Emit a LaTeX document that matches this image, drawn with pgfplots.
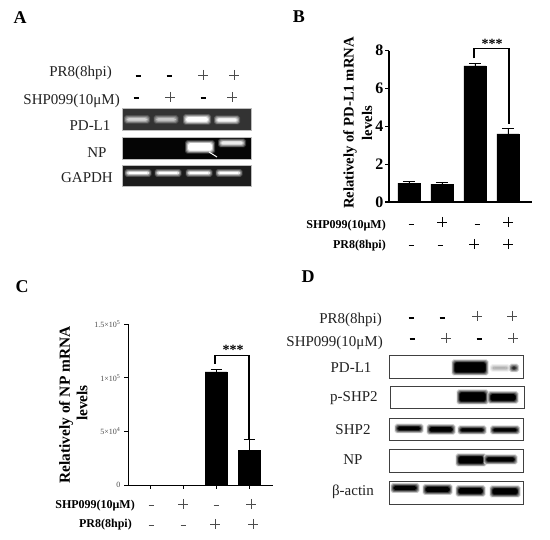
\documentclass[border=0pt]{standalone}
\usepackage{fontspec}
\setmainfont{Liberation Serif}
\usepackage{pgfplots}
\usepackage{pgfplotstable}
\pgfplotsset{compat=1.18}
\definecolor{gelA}{HTML}{333333}
\definecolor{gelB}{HTML}{050505}
\definecolor{gelC}{HTML}{1C1C1C}
\definecolor{frameA}{HTML}{BDBDBD}
\definecolor{lab}{HTML}{222222}
\newcommand{\fs}[1]{\fontsize{#1}{#1}\selectfont}
% blurred band: cx cy w h core background
\newcommand{\band}[6]{%
  \colorlet{bandcore}{#5}%
  \foreach \i in {0,1,...,5}{%
    \pgfmathsetmacro{\mixv}{(\i+1)*100/6}%
    \pgfmathsetmacro{\gr}{(5-\i)*0.6}%
    \fill[color=bandcore!\mixv!#6,rounded corners=1.8pt]
      ({(#1-#3/2-\gr)*1pt},{-(#2-#4/2-0.5-\gr)*1pt}) rectangle ({(#1+#3/2+\gr)*1pt},{-(#2+#4/2+0.5+\gr)*1pt});
  }}
\newcommand{\R}[4]{\node[anchor=east,inner sep=0pt,text=lab,font=\fs{#4}] at (#1pt,-#2pt-1.5pt) {#3};}
\newcommand{\C}[4]{\node[anchor=center,inner sep=0pt,text=lab,font=\fs{#4}] at (#1pt,-#2pt-1pt) {#3};}
\newcommand{\BF}[4]{\node[anchor=center,inner sep=0pt,text=black,font=\fs{#4}\bfseries] at (#1pt,-#2pt) {#3};}
\newcommand{\BR}[4]{\node[anchor=east,inner sep=0pt,text=black,font=\fs{#4}\bfseries] at (#1pt,-#2pt-2pt) {#3};}
\newcommand{\plus}[3]{\draw[#3] (#1pt-5pt,-#2pt) -- (#1pt+5pt,-#2pt) (#1pt,-#2pt+5pt) -- (#1pt,-#2pt-5pt);}
\newcommand{\minus}[3]{\draw[#3] (#1pt-2.5pt,-#2pt) -- (#1pt+2.5pt,-#2pt);}
\pgfplotstableread{
x y e
0 1.00 0.08
1 0.95 0.08
2 7.20 0.12
3 3.60 0.30
}\tabB
\pgfplotstableread{
x y e
2 105500 2500
3 32600 9500
}\tabC
\begin{document}
\begin{tikzpicture}[x=1pt,y=1pt]
\useasboundingbox (0pt,0pt) rectangle (550pt,-540pt);
\fill[white] (0pt,0pt) rectangle (550pt,-540pt);
% ---------- panel A
\BF{20}{18}{A}{18}
\R{112}{71}{PR8(8hpi)}{15}
\R{120}{99}{SHP099(10μM)}{15}
\minus{138}{76}{black,line width=1.1pt}\minus{169}{76}{black,line width=1.1pt}
\plus{203}{75}{black!70,line width=0.6pt}\plus{234}{75}{black!70,line width=0.6pt}
\minus{136}{98}{black,line width=1.1pt}\plus{170}{97}{black!70,line width=0.6pt}
\minus{203}{98}{black,line width=1.1pt}\plus{232}{97}{black!70,line width=0.6pt}
\C{90}{125}{PD-L1}{15}\C{97}{152}{NP}{15}\C{87}{177}{GAPDH}{15}
\filldraw[draw=frameA,fill=gelA,line width=0.7pt] (122pt,-108pt) rectangle (251pt,-130pt);
\filldraw[draw=frameA,fill=gelB,line width=0.7pt] (122pt,-137pt) rectangle (251pt,-159pt);
\filldraw[draw=frameA,fill=gelC,line width=0.7pt] (122pt,-165pt) rectangle (251pt,-186pt);
\band{137}{119.5}{20}{1.5}{black!18}{gelA}
\band{166}{119.5}{19}{1.5}{black!22}{gelA}
\band{197}{119.5}{22}{3.5}{white}{gelA}
\band{227}{120}{20}{2}{black!3}{gelA}
\band{200}{147}{24}{6.5}{white}{gelB}
\band{232}{143}{22}{2}{black!8}{gelB}
\draw[white,line width=1pt] (209pt,-152pt) -- (217pt,-157pt);
\foreach \xx in {138,168,199,229}{\band{\xx}{173}{21}{0.8}{white}{gelC}}
% ---------- panel B
\BF{299}{17}{B}{18}
\begin{axis}[at={(389pt,-202pt)},anchor=south west,scale only axis,width=143pt,height=151.3pt,
  xmin=-0.606,xmax=3.73,ymin=0,ymax=8,
  axis lines=left,axis line style={-,line width=1.2pt},clip=false,tick align=outside,
  xtick=\empty,ytick={0,2,4,6,8},yticklabels={0,2,4,6,8},
  tick style={black,line width=1.2pt},major tick length=4pt,
  tick label style={font=\fs{16}\bfseries},
  yticklabel style={xshift=2pt}]
\addplot[ybar,bar width=22pt,fill=black,draw=black,
  error bars/.cd,y dir=plus,y explicit,error bar style={black,line width=0.7pt},
  error mark options={rotate=90,mark size=6pt,line width=0.7pt,black}]
  table[x=x,y=y,y error=e] {\tabB};
\addplot[black,line width=1.3pt,mark=none] coordinates {(1.97,7.6) (1.97,8.1) (3.03,8.1) (3.03,4.15)};
\end{axis}
\BF{492}{44}{***}{14}
\node[rotate=90,inner sep=0pt,font=\fs{14.7}\bfseries] at (350pt,-123pt) {Relatively of PD-L1 mRNA};
\node[rotate=90,inner sep=0pt,font=\fs{14.7}\bfseries] at (367pt,-123pt) {levels};
\BR{386}{224}{SHP099(10μM)}{12}
\BR{386}{244}{PR8(8hpi)}{12}
\minus{411}{224}{black,line width=0.7pt}\plus{442}{222}{black,line width=0.7pt}
\minus{477}{224}{black,line width=0.7pt}\plus{508}{222}{black,line width=0.7pt}
\minus{411}{245}{black,line width=0.7pt}\minus{440}{245}{black,line width=0.7pt}
\plus{474}{244}{black,line width=0.7pt}\plus{508}{244}{black,line width=0.7pt}
% ---------- panel C
\BF{22}{287}{C}{18}
\begin{axis}[at={(128pt,-485pt)},anchor=south west,scale only axis,width=145pt,height=161pt,
  xmin=-0.667,xmax=3.727,ymin=0,ymax=150000,
  axis lines=left,axis line style={-,line width=0.9pt},clip=false,tick align=outside,
  xtick={0,1,2,3},xticklabels={,,,},
  ytick={0,50000,100000,150000},
  yticklabels={0,5×10\textsuperscript{4},1×10\textsuperscript{5},1.5×10\textsuperscript{5}},
  scaled y ticks=false,
  tick style={black,line width=0.7pt},major tick length=4pt,
  tick label style={font=\fs{8},text=black!70}]
\addplot[ybar,bar width=22pt,fill=black,draw=black,
  error bars/.cd,y dir=plus,y explicit,error bar style={black,line width=0.7pt},
  error mark options={rotate=90,mark size=5.5pt,line width=0.7pt,black}]
  table[x=x,y=y,y error=e] {\tabC};
\addplot[black,line width=1.1pt,mark=none] coordinates {(1.97,113000) (1.97,120500) (3,120500) (3,42000)};
\end{axis}
\BF{233}{350}{***}{14}
\node[rotate=90,inner sep=0pt,font=\fs{15.4}\bfseries] at (66pt,-405pt) {Relatively of NP mRNA};
\node[rotate=90,inner sep=0pt,font=\fs{15.4}\bfseries] at (82pt,-403pt) {levels};
\BR{135}{504}{SHP099(10μM)}{12}
\BR{132}{523}{PR8(8hpi)}{12}
\minus{151}{505}{black!70,line width=0.6pt}\plus{183}{504}{black!70,line width=0.6pt}
\minus{216}{505}{black!70,line width=0.6pt}\plus{251}{504}{black!70,line width=0.6pt}
\minus{151}{525}{black!70,line width=0.6pt}\minus{183}{525}{black!70,line width=0.6pt}
\plus{215}{524}{black!70,line width=0.6pt}\plus{253}{524}{black!70,line width=0.6pt}
% ---------- panel D
\BF{308}{277}{D}{18}
\R{382}{318}{PR8(8hpi)}{15}
\R{383}{341}{SHP099(10μM)}{15}
\minus{411}{318}{black,line width=1.1pt}\minus{442}{318}{black,line width=1.1pt}
\plus{477}{316}{black!70,line width=0.6pt}\plus{512}{316}{black!70,line width=0.6pt}
\minus{412}{339}{black,line width=1.1pt}\plus{446}{338}{black!70,line width=0.6pt}
\minus{479}{339}{black,line width=1.1pt}\plus{513}{338}{black!70,line width=0.6pt}
\C{351}{367}{PD-L1}{15}\C{354}{397}{p-SHP2}{15}\C{353}{429}{SHP2}{15}\C{353}{459}{NP}{15}\C{353}{491}{β-actin}{15}
% PD-L1
\band{470}{367.5}{31}{9}{black}{white}
\band{500}{368}{14}{0.5}{black!30}{white}
\band{514}{368}{4}{1.5}{black!85}{white}
% p-SHP2
\band{472.5}{397}{26}{8}{black}{white}
\band{503}{397.5}{25}{5.5}{black}{white}
% SHP2
\band{409}{428.5}{23}{2.5}{black}{white}
\band{441}{429.5}{23}{3.5}{black}{white}
\band{472}{430}{23}{2}{black}{white}
\band{505}{430}{24}{2}{black}{white}
% NP
\band{471}{460}{25}{6}{black}{white}
\band{500.5}{459.5}{28}{3}{black}{white}
% beta-actin
\band{405}{488}{23}{3}{black}{white}
\band{437.5}{489.5}{24}{4}{black}{white}
\band{470.5}{491}{24}{4.5}{black}{white}
\band{505}{491.5}{25}{5}{black}{white}
\draw[black!75,line width=0.7pt] (389pt,-355pt) rectangle (523pt,-378pt);
\draw[black!75,line width=0.7pt] (390pt,-386pt) rectangle (524pt,-408pt);
\draw[black!75,line width=0.7pt] (389pt,-418pt) rectangle (523pt,-440pt);
\draw[black!75,line width=0.7pt] (389pt,-449pt) rectangle (523pt,-472pt);
\draw[black!75,line width=0.7pt] (389pt,-481pt) rectangle (523pt,-504pt);
\end{tikzpicture}
\end{document}
